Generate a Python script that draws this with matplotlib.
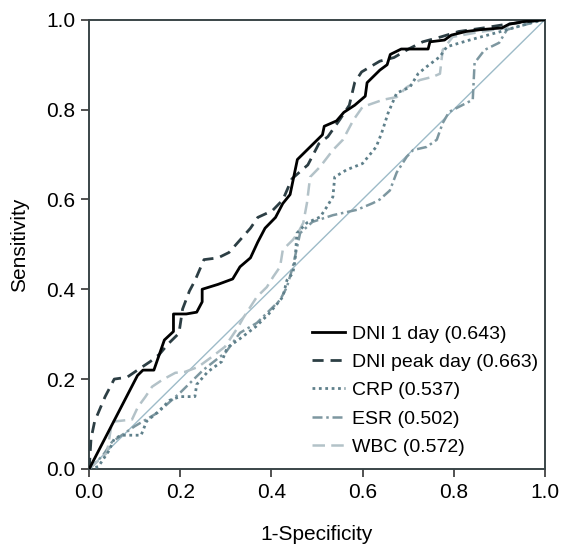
import matplotlib

matplotlib.use("Agg")
import matplotlib.pyplot as plt

plt.rcParams['font.family'] = ['Liberation Sans', 'DejaVu Sans']

# ROC curves (1-specificity, sensitivity)
dni1_x = [0, 0.106, 0.118, 0.142, 0.165, 0.185, 0.185, 0.213, 0.236, 0.248, 0.248,
          0.283, 0.315, 0.331, 0.354, 0.37, 0.386, 0.409, 0.425, 0.441, 0.457,
          0.476, 0.496, 0.512, 0.516, 0.543, 0.559, 0.583, 0.606, 0.61, 0.626,
          0.638, 0.654, 0.661, 0.685, 0.744, 0.748, 0.78, 0.795, 0.827, 0.858,
          0.906, 0.921, 0.953, 1.0]
dni1_y = [0, 0.208, 0.22, 0.22, 0.287, 0.306, 0.345, 0.345, 0.349, 0.372, 0.40,
          0.411, 0.423, 0.45, 0.47, 0.505, 0.536, 0.56, 0.591, 0.611, 0.689,
          0.708, 0.728, 0.744, 0.763, 0.775, 0.794, 0.81, 0.83, 0.86, 0.876,
          0.888, 0.9, 0.923, 0.935, 0.935, 0.951, 0.955, 0.966, 0.974, 0.978,
          0.982, 0.99, 0.996, 1.0]

peak_x = [0, 0.004, 0.012, 0.035, 0.055, 0.083, 0.106, 0.134, 0.154, 0.173, 0.197,
          0.205, 0.22, 0.232, 0.252, 0.283, 0.307, 0.327, 0.354, 0.37, 0.402,
          0.425, 0.445, 0.48, 0.5, 0.504, 0.524, 0.551, 0.571, 0.583, 0.598,
          0.638, 0.669, 0.701, 0.732, 0.772, 0.811, 0.866, 0.921, 1.0]
peak_y = [0, 0.067, 0.106, 0.161, 0.2, 0.204, 0.22, 0.239, 0.255, 0.278, 0.302,
          0.356, 0.396, 0.419, 0.466, 0.47, 0.482, 0.505, 0.536, 0.56, 0.575,
          0.599, 0.646, 0.677, 0.716, 0.724, 0.74, 0.779, 0.81, 0.861, 0.884,
          0.908, 0.916, 0.935, 0.951, 0.962, 0.974, 0.982, 0.991, 1.0]

crp_x = [0, 0.02, 0.043, 0.055, 0.071, 0.114, 0.126, 0.15, 0.177, 0.2, 0.232,
         0.236, 0.26, 0.291, 0.303, 0.331, 0.366, 0.394, 0.425, 0.434, 0.447,
         0.452, 0.456, 0.478, 0.507, 0.522, 0.535, 0.539, 0.565, 0.6, 0.63,
         0.642, 0.656, 0.675, 0.704, 0.722, 0.74, 0.77, 0.785, 0.835, 0.9,
         0.975, 1.0]
crp_y = [0, 0.005, 0.04, 0.067, 0.075, 0.075, 0.106, 0.126, 0.153, 0.161, 0.161,
         0.188, 0.216, 0.239, 0.27, 0.29, 0.317, 0.345, 0.383, 0.42, 0.436,
         0.465, 0.525, 0.548, 0.561, 0.584, 0.606, 0.65, 0.666, 0.68, 0.717,
         0.748, 0.792, 0.837, 0.85, 0.88, 0.895, 0.918, 0.94, 0.955, 0.973,
         0.995, 1.0]

esr_x = [0, 0.03, 0.05, 0.1, 0.15, 0.2, 0.25, 0.3, 0.331, 0.368, 0.397, 0.419,
         0.434, 0.447, 0.463, 0.49, 0.535, 0.588, 0.623, 0.638, 0.66, 0.675,
         0.697, 0.711, 0.741, 0.763, 0.776, 0.79, 0.842, 0.846, 0.868, 0.9,
         0.917, 0.96, 1.0]
esr_y = [0, 0.03, 0.06, 0.095, 0.125, 0.17, 0.22, 0.26, 0.303, 0.325, 0.354, 0.376,
         0.405, 0.45, 0.525, 0.55, 0.565, 0.577, 0.592, 0.6, 0.62, 0.66,
         0.695, 0.71, 0.717, 0.733, 0.77, 0.795, 0.822, 0.904, 0.933, 0.949,
         0.978, 0.99, 1.0]

wbc_x = [0, 0.039, 0.05, 0.094, 0.107, 0.123, 0.138, 0.16, 0.189, 0.21, 0.239,
         0.27, 0.298, 0.327, 0.338, 0.368, 0.39, 0.404, 0.419, 0.425, 0.447,
         0.458, 0.47, 0.478, 0.485, 0.507, 0.535, 0.557, 0.58, 0.6, 0.645,
         0.675, 0.697, 0.726, 0.754, 0.77, 0.776, 0.798, 0.857, 0.917, 0.923,
         1.0]
wbc_y = [0, 0.036, 0.105, 0.11, 0.138, 0.16, 0.183, 0.198, 0.214, 0.216, 0.227,
         0.25, 0.272, 0.316, 0.336, 0.383, 0.405, 0.428, 0.45, 0.488, 0.51,
         0.525, 0.548, 0.592, 0.65, 0.673, 0.71, 0.733, 0.777, 0.806, 0.822,
         0.828, 0.85, 0.866, 0.873, 0.88, 0.933, 0.962, 0.973, 0.982, 0.993,
         1.0]

labels = ['DNI 1 day (0.643)', 'DNI peak day (0.663)', 'CRP (0.537)',
          'ESR (0.502)', 'WBC (0.572)']

fig = plt.figure(figsize=(5.61, 5.51), dpi=100)
ax = fig.add_axes([0.159, 0.149, 0.812, 0.815])

ax.plot([0, 1], [0, 1], color='#9dbbc8', lw=1.0, zorder=1)
ax.plot(dni1_x, dni1_y, color='black', lw=2.0, label=labels[0], zorder=5)
ax.plot(peak_x, peak_y, color='#2c3e44', lw=2.0, ls=(0, (4, 2.5)),
        label=labels[1], zorder=4)
ax.plot(crp_x, crp_y, color='#5f808b', lw=2.0, ls=(0, (1, 1.3)),
        label=labels[2], zorder=3)
ax.plot(esr_x, esr_y, color='#7d97a0', lw=1.8, ls=(0, (4, 1.5, 1, 1.5)),
        label=labels[3], zorder=2)
ax.plot(wbc_x, wbc_y, color='#b3c2c8', lw=1.8, ls=(0, (5, 2.5)),
        label=labels[4], zorder=2)

ax.set_xlim(0, 1)
ax.set_ylim(0, 1)
ax.set_xticks([0, 0.2, 0.4, 0.6, 0.8, 1.0])
ax.set_yticks([0, 0.2, 0.4, 0.6, 0.8, 1.0])
ax.set_xticklabels(['0.0', '0.2', '0.4', '0.6', '0.8', '1.0'])
ax.set_yticklabels(['0.0', '0.2', '0.4', '0.6', '0.8', '1.0'])
ax.tick_params(direction='out', length=6, width=1.2, labelsize=15,
               color='#333333', pad=4)
for sp in ax.spines.values():
    sp.set_linewidth(1.4)
    sp.set_color('#3a4548')

ax.set_xlabel('1-Specificity', fontsize=15, labelpad=17)
ax.set_ylabel('Sensitivity', fontsize=15, labelpad=12)

ax.legend(loc='lower left', bbox_to_anchor=(0.489, 0.029), frameon=False,
          fontsize=14, handlelength=1.7, handletextpad=0.36,
          labelspacing=0.55, borderpad=0, borderaxespad=0)

fig.savefig('out.png', dpi=100, facecolor='white')
